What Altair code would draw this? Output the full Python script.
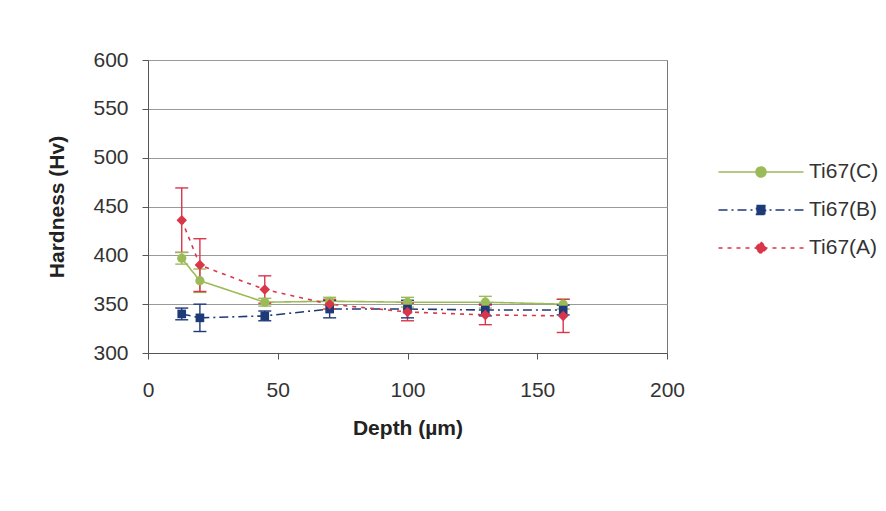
import altair as alt
import pandas as pd

# ---- data ----
depth = [13, 20, 45, 70, 100, 130, 160]
ti67_c = [397, 374, 352, 353, 352, 352, 350]
ti67_b = [340, 336, 338, 345, 345, 344, 344]
ti67_a = [436, 390, 365, 350, 342, 339, 338]
err_c = [6, 12, 4, 4, 5, 6, 5]
err_b = [6, 14, 5, 9, 9, 6, 5]
err_a = [33, 27, 14, 5, 9, 10, 17]

series = ["Ti67(C)", "Ti67(B)", "Ti67(A)"]
colors = ["#9bbb59", "#1f3a78", "#d9364a"]
dashes = [[1, 0], [9, 4, 2, 4], [4, 5]]
point_shapes = ["circle", "square", "diamond"]
x_ticks = [0, 50, 100, 150, 200]
y_ticks = [300, 350, 400, 450, 500, 550, 600]

# legend symbols: a line with the series marker in the middle
legend_shapes = [
    "M-4.25,0H4.25M-0.5,0A0.5,0.5 0 1,0 0.5,0A0.5,0.5 0 1,0 -0.5,0Z",
    "M-4.25,0H4.25M-0.45,-0.45H0.45V0.45H-0.45Z",
    "M-4.25,0H4.25M0,-0.6L0.6,0L0,0.6L-0.6,0Z",
]

rows = []
for name, vals, errs in zip(series, [ti67_c, ti67_b, ti67_a], [err_c, err_b, err_a]):
    for d, v, e in zip(depth, vals, errs):
        rows.append({"series": name, "depth": d, "hv": v, "lo": v - e, "hi": v + e})
df = pd.DataFrame(rows)

FONT = "Liberation Sans"

leg = alt.Legend(
    title=None, orient="none", legendX=602, legendY=101, padding=0,
    symbolSize=400, symbolStrokeWidth=1.5, symbolOpacity=1,
    labelFont=FONT, labelFontSize=21,
    labelColor="#333333", labelOffset=37, rowPadding=17,
)

x_enc = alt.X(
    "depth:Q",
    scale=alt.Scale(domain=[0, 200], nice=False, zero=False),
    axis=alt.Axis(values=x_ticks, title="Depth (µm)", grid=False, format="d",
                  labelFlush=False, labelPadding=20, titlePadding=17, tickSize=6),
)
y_enc = alt.Y(
    "hv:Q",
    scale=alt.Scale(domain=[300, 600], nice=False, zero=False),
    axis=alt.Axis(values=y_ticks, title="Hardness (Hv)", grid=True, format="d",
                  labelPadding=14, titlePadding=25, tickSize=6),
)
color_enc = alt.Color("series:N", scale=alt.Scale(domain=series, range=colors), legend=leg)
dash_enc = alt.StrokeDash("series:N", scale=alt.Scale(domain=series, range=dashes), legend=leg)

base = alt.Chart(df)

lines = base.mark_line(strokeWidth=1.6).encode(
    x=x_enc, y=y_enc, color=color_enc, detail="series:N", strokeDash=dash_enc,
)

whiskers = base.mark_rule(strokeWidth=1.4).encode(
    x="depth:Q", y="lo:Q", y2="hi:Q", color=color_enc,
)
caps_lo = base.mark_tick(orient="horizontal", size=13, thickness=1.4, opacity=1).encode(
    x="depth:Q", y="lo:Q", color=color_enc,
)
caps_hi = base.mark_tick(orient="horizontal", size=13, thickness=1.4, opacity=1).encode(
    x="depth:Q", y="hi:Q", color=color_enc,
)

point_layers = []
for name, shp, sz in zip(series, point_shapes, [85, 75, 110]):
    point_layers.append(
        base.transform_filter(alt.datum.series == name)
        .mark_point(filled=True, opacity=1, size=sz, shape=shp)
        .encode(x="depth:Q", y="hv:Q", color=color_enc)
    )

# invisible layer whose only job is to give the legend its line+marker symbols
legend_layer = base.mark_point(filled=True, opacity=0).encode(
    x="depth:Q", y="hv:Q", color=color_enc,
    shape=alt.Shape("series:N", scale=alt.Scale(domain=series, range=legend_shapes), legend=leg),
)

chart = (
    alt.layer(lines, whiskers, caps_lo, caps_hi, *point_layers, legend_layer)
    .properties(
        width=519, height=293,
        autosize=alt.AutoSizeParams(type="none"),
        padding={"left": 148, "top": 60, "right": 219, "bottom": 158},
        background="white",
    )
    .configure_view(stroke="#777777", strokeWidth=1)
    .configure_axis(
        labelFont=FONT, labelFontSize=21, labelColor="#333333",
        titleFont=FONT, titleFontSize=21, titleFontWeight="bold", titleColor="#222222",
        domainColor="#555555", tickColor="#555555", gridColor="#9a9a9a", gridWidth=1,
    )
)

chart.save("out.html", embed_options={"renderer": "svg", "actions": False})
